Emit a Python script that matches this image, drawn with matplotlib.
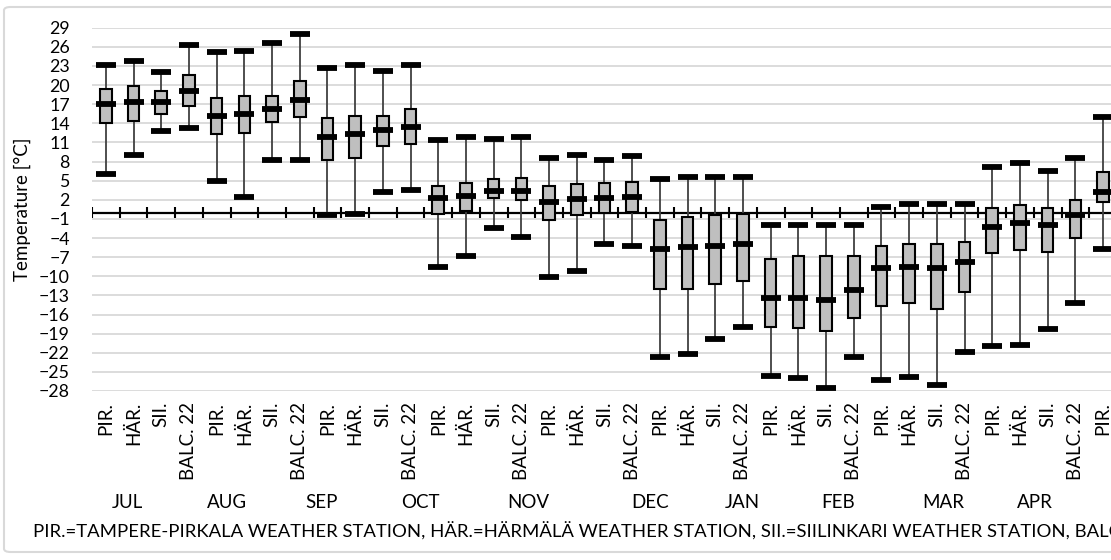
import numpy as np
import matplotlib.pyplot as plt
from matplotlib.patches import FancyBboxPatch

plt.rcParams['font.family'] = ['Lato', 'DejaVu Sans']

months = ['JUL', 'AUG', 'SEP', 'OCT', 'NOV', 'DEC', 'JAN', 'FEB', 'MAR', 'APR']
stations = ['PIR.', 'HÄR.', 'SII.', 'BALC. 22']

# monthly temperature statistics, four stations per month (Jul ... first Apr box)
t_min = [6.1, 9.1, 12.8, 13.2,
         5.0, 2.4, 8.2, 8.2,
         -0.4, -0.2, 3.3, 3.6,
         -8.6, -6.8, -2.4, -3.8,
         -10.1, -9.1, -4.9, -5.2,
         -22.7, -22.2, -19.85, -18.0,
         -25.7, -25.9, -27.5, -22.7,
         -26.3, -25.8, -27.0, -21.9,
         -21.0, -20.8, -18.3, -14.2,
         -5.7]
t_q1 = [14.0, 14.4, 15.5, 16.7,
        12.35, 12.5, 14.2, 15.0,
        8.3, 8.6, 10.4, 10.7,
        -0.2, 0.26, 2.25, 1.9,
        -1.1, -0.4, -0.1, 0.15,
        -12.0, -12.0, -11.2, -10.8,
        -18.0, -18.1, -18.6, -16.5,
        -14.7, -14.25, -15.2, -12.4,
        -6.4, -5.8, -6.2, -4.0,
        1.6]
t_median = [17.0, 17.4, 17.3, 19.05,
            15.1, 15.4, 16.2, 17.6,
            11.9, 12.35, 13.0, 13.45,
            2.25, 2.56, 3.4, 3.45,
            1.7, 2.1, 2.35, 2.5,
            -5.7, -5.35, -5.2, -4.9,
            -13.4, -13.35, -13.7, -12.15,
            -8.75, -8.5, -8.65, -7.7,
            -2.2, -1.6, -1.95, -0.4,
            3.3]
t_q3 = [19.4, 19.9, 19.05, 21.6,
        18.0, 18.3, 18.3, 20.6,
        14.8, 15.2, 15.1, 16.2,
        4.1, 4.6, 5.3, 5.4,
        4.2, 4.5, 4.65, 4.8,
        -1.2, -0.7, -0.4, -0.2,
        -7.3, -6.8, -6.8, -6.8,
        -5.2, -4.9, -4.9, -4.6,
        0.7, 1.15, 0.7, 2.0,
        6.3]
t_max = [23.2, 23.7, 22.0, 26.3,
         25.2, 25.4, 26.6, 28.0,
         22.6, 23.1, 22.2, 23.2,
         11.4, 11.8, 11.5, 11.9,
         8.6, 9.0, 8.3, 8.8,
         5.2, 5.6, 5.6, 5.6,
         -1.9, -1.9, -1.95, -1.9,
         0.8, 1.3, 1.3, 1.3,
         7.1, 7.7, 6.5, 8.6,
         15.0]

footnote = ('PIR.=TAMPERE-PIRKALA WEATHER STATION, HÄR.=HÄRMÄLÄ WEATHER STATION, '
            'SII.=SIILINKARI WEATHER STATION, BALC. 22=BALCONY 22')

n_cat = len(months) * len(stations)
x = np.arange(len(t_median))

fig = plt.figure(figsize=(11.11, 5.6), dpi=100)
W, H = 1111, 560

# light frame around the chart (runs past the right edge)
frame = FancyBboxPatch((4 / W, 8 / H), 1.2, (553 - 8) / H,
                       boxstyle='round,pad=0,rounding_size=0.006',
                       transform=fig.transFigure, facecolor='none',
                       edgecolor='#D9D9D9', linewidth=1.5, zorder=-1)
fig.patches.append(frame)

ax = fig.add_axes([92 / W, 1 - 391 / H, 1108 / W, (391 - 27.7) / H])
ax.set_facecolor('none')

# whiskers, boxes, caps, medians
ax.vlines(x, t_min, t_max, color='#404040', linewidth=1.3, zorder=2)
ax.bar(x, np.array(t_q3) - np.array(t_q1), bottom=t_q1, width=0.42,
       color='#BFBFBF', edgecolor='black', linewidth=1.5, zorder=3)
cap_w = 0.36
ax.hlines(t_min, x - cap_w, x + cap_w, color='black', linewidth=4.2, zorder=4)
ax.hlines(t_max, x - cap_w, x + cap_w, color='black', linewidth=4.2, zorder=4)
ax.hlines(t_median, x - cap_w, x + cap_w, color='black', linewidth=4.2, zorder=4)

# horizontal axis at zero with tick marks between categories
ax.axhline(0, color='black', linewidth=1.6, zorder=1)
ax.vlines(np.arange(n_cat + 1) - 0.5, -0.85, 0.85, color='black', linewidth=1.5, zorder=1)

ax.set_xlim(-0.5, n_cat - 0.5)
ax.set_ylim(-28, 29)
ax.set_yticks(np.arange(-28, 30, 3))
ax.yaxis.grid(True, color='#D9D9D9', linewidth=1.3, zorder=0)
ax.set_axisbelow(True)
for s in ax.spines.values():
    s.set_visible(False)

ax.set_xticks(np.arange(n_cat))
ax.set_xticklabels(stations * len(months), rotation=90, fontsize=13.5, va='top')
ax.tick_params(axis='x', length=0, pad=8)
ax.tick_params(axis='y', length=0, pad=16, labelsize=12.8)
ax.set_ylabel('Temperature [°C]', fontsize=13.5)
ax.yaxis.set_label_coords(-0.055, 0.5)

# month names line below the station labels
month_px = [127, 227, 322, 420, 528, 650, 742, 838, 943, 1035]
for m, px in zip(months, month_px):
    fig.text(px / W, 1 - 502 / H, m, ha='center', va='center', fontsize=13.5)

fig.text(33 / W, 1 - 531 / H, footnote, ha='left', va='center', fontsize=13.3)

fig.savefig('out.png', dpi=100)
